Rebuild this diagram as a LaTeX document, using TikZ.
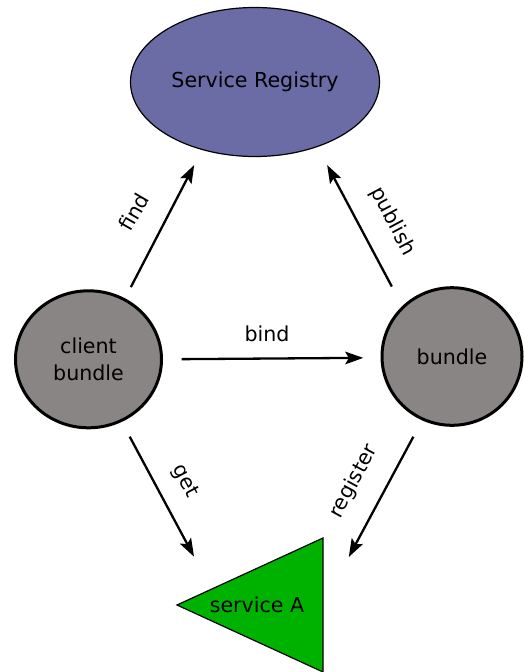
\documentclass[tikz,border=0pt]{standalone}
\usepackage{fontspec}
\setmainfont{DejaVu Sans}
\usetikzlibrary{shapes.geometric,arrows.meta,calc}
\definecolor{regblue}{RGB}{107,107,166}
\definecolor{bundlegray}{RGB}{138,133,133}
\definecolor{svcgreen}{RGB}{0,178,0}
\begin{document}
\begin{tikzpicture}[x=1pt,y=-1pt,
  every node/.style={font=\fontsize{20.6}{26.5}\selectfont},
  bundlenode/.style={ellipse, draw, line width=3pt, fill=bundlegray,
    inner sep=0pt, outer sep=0pt},
  arr/.style={-{Stealth[length=18pt,width=12.5pt,inset=3.5pt]}, line width=2.3pt},
  lbl/.style={inner sep=0pt}]
\useasboundingbox (0,0) rectangle (524,672);

% registry, bundles and the service
\node[ellipse, draw, line width=1.2pt, fill=regblue, minimum width=249pt,
  minimum height=149pt, inner sep=0pt, outer sep=0pt] (reg) at (255,82) {Service Registry};
\node[bundlenode, minimum width=146pt, minimum height=137pt, align=center]
  (client) at (88.5,359.3) {client\\bundle};
\node[bundlenode, minimum width=140pt, minimum height=137.6pt]
  (bundle) at (452,356.5) {bundle};
\node[isosceles triangle, isosceles triangle stretches, shape border rotate=180,
  minimum width=134pt, minimum height=146pt, draw, line width=1.2pt,
  fill=svcgreen, inner sep=0pt, outer sep=0pt, anchor=apex] (svc) at (177,605) {};
\node (svclabel) at (257,605) {service A};

% interactions
\draw[arr, shorten <=14.1pt, shorten >=17.5pt] (client.59.9) -- (reg.232.1);
\draw[arr, shorten <=23.7pt, shorten >=21pt] (bundle.135.3) -- (reg.314.3);
\draw[arr, shorten <=20.2pt, shorten >=18.7pt] (client.0.8) -- (bundle.181.5);
\draw[arr, shorten <=18.3pt, shorten >=36.9pt] (client.298.2) -- ($(svc.apex)!0.236!(svc.right corner)$);
\draw[arr, shorten <=20.1pt, shorten >=54.5pt] (bundle.245) -- (svc.lower side);

% interaction labels
\node[lbl, rotate=60] (findlbl) at (134,212) {find};
\node[lbl, rotate=-62] (publbl) at (392.5,221.5) {publish};
\node[lbl, anchor=base] (bindlbl) at (267,341) {bind};
\node[lbl, rotate=-62] (getlbl) at (185,481.5) {get};
\node[lbl, rotate=61.5] (reglbl) at (354,481.5) {register};
\end{tikzpicture}
\end{document}
